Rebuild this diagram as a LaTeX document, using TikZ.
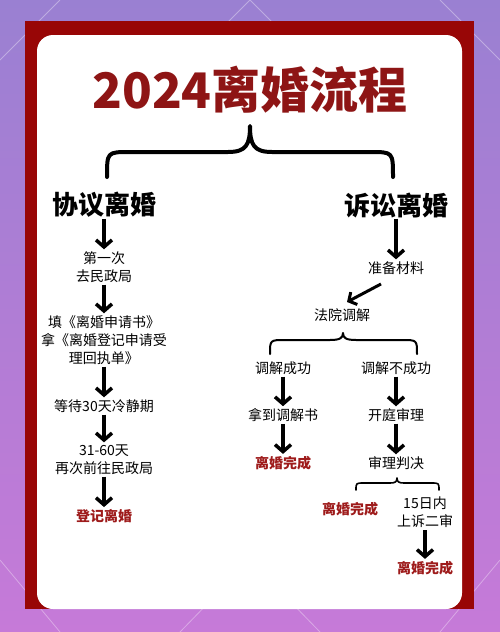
\documentclass[tikz,border=0pt]{standalone}
\usepackage{fontspec}
\setmainfont{Noto Sans CJK SC}
\usetikzlibrary{arrows.meta}
\definecolor{bgtop}{HTML}{9A80D2}
\definecolor{bgbot}{HTML}{C67AD8}
\definecolor{framered}{HTML}{980606}
\definecolor{titlered}{HTML}{8E1515}
\definecolor{donered}{HTML}{9E1B1B}
\tikzset{
  titletext/.style={text=titlered,font=\fontsize{49}{52}\selectfont\bfseries,inner sep=0pt},
  headtext/.style={text=black,font=\fontsize{26}{30}\selectfont\bfseries,inner sep=1pt},
  txt/.style={text=black,font=\fontsize{14}{18}\selectfont,align=center,inner sep=2pt},
  donetxt/.style={text=donered,font=\fontsize{14}{18}\selectfont\bfseries,align=center,inner sep=2pt},
  arr/.style={line width=3.5pt,-{Straight Barb[length=7pt,width=16pt]}},
  bracestyle/.style={line width=4pt,line cap=round,line join=round},
}
\begin{document}
\begin{tikzpicture}[x=1pt,y=-1pt]
\useasboundingbox (0,0) rectangle (500,632);
\shade[top color=bgtop,bottom color=bgbot] (0,0) rectangle (500,632);
\begin{scope}[white,opacity=0.35,line width=0.8pt]
  \draw (0,60) -- (60,0) (190,60) -- (250,0) -- (310,60) (440,0) -- (500,60);
  \draw (0,560) -- (60,632) (440,632) -- (500,560) (180,632) -- (250,560) -- (320,632);
\end{scope}
\fill[framered] (25,21) rectangle (474,609);
\fill[white,rounded corners=16pt] (37,35) rectangle (462,609);

\node[titletext] (title) at (250,90) {2024离婚流程};

% big brace
\draw[bracestyle] (107,177) .. controls (107,152) and (107,152) .. (130,152) -- (228,152)
  .. controls (246,152) and (250,145) .. (250,126)
  .. controls (250,145) and (254,152) .. (272,152) -- (370,152)
  .. controls (393,152) and (393,152) .. (393,177);

\node[headtext] (xy) at (104,205) {协议离婚};
\node[headtext] (ss) at (396,205) {诉讼离婚};

% left column
\node[txt] (l1) at (104,267) {第一次\\去民政局};
\node[txt] (l2) at (104,340) {填《离婚申请书》\\拿《离婚登记申请受\\理回执单》};
\node[txt] (l3) at (104,406) {等待30天冷静期};
\node[txt] (l4) at (104,459.5) {31-60天\\再次前往民政局};
\node[donetxt] (l5) at (104,516) {登记离婚};

\draw[arr] (xy) -- (l1);
\draw[arr] (l1) -- (l2);
\draw[arr] (l2) -- (l3);
\draw[arr] (l3) -- (l4);
\draw[arr] (l4) -- (l5);

% right column
\node[txt] (r1) at (396,268) {准备材料};
\node[txt] (r2) at (342,315) {法院调解};
\node[txt] (r3) at (283,368) {调解成功};
\node[txt] (r4) at (396,368) {调解不成功};
\node[txt] (r5) at (283,415) {拿到调解书};
\node[donetxt] (r6) at (283,463) {离婚完成};
\node[txt] (r7) at (396,415) {开庭审理};
\node[txt] (r8) at (396,463) {审理判决};
\node[donetxt] (r9) at (350,509) {离婚完成};
\node[txt] (r10) at (425,512.5) {15日内\\上诉二审};
\node[donetxt] (r11) at (425,568) {离婚完成};

\draw[arr] (ss) -- (r1);
\coordinate (d1) at (381,284);
\coordinate (d2) at (347,302);
\draw[line width=3pt,-{Straight Barb[length=6pt,width=14pt]}] (d1) -- (d2);

% brace under 法院调解
\draw[line width=2pt,line cap=round,line join=round] (270,354) .. controls (270,340) and (270,340) .. (285,340) -- (330,340)
  .. controls (340,340) and (343,338) .. (343,333)
  .. controls (343,338) and (346,340) .. (356,340) -- (402,340)
  .. controls (417,340) and (417,340) .. (417,354);

\draw[arr] (r3) -- (r5);
\draw[arr] (r5) -- (r6);
\draw[arr] (r4) -- (r7);
\draw[arr] (r7) -- (r8);

% brace under 审理判决
\draw[line width=1.6pt,line cap=round,line join=round] (356,490) .. controls (356,483) and (356,483) .. (364,483) -- (390,483)
  .. controls (395,483) and (397,482) .. (397,478)
  .. controls (397,482) and (399,483) .. (404,483) -- (431,483)
  .. controls (439,483) and (439,483) .. (439,490);

\draw[arr] (r10) -- (r11);
\end{tikzpicture}
\end{document}
